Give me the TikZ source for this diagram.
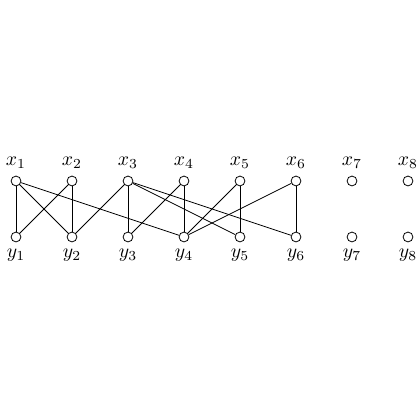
\documentclass[tikz,border=0pt]{standalone}
\begin{document}
\begin{tikzpicture}[x=1cm,y=1cm,
  vtx/.style={circle,draw,fill=white,minimum size=5pt,inner sep=0pt},
  edge/.style={draw,line width=0.4pt}]
\useasboundingbox (0,0) rectangle (7.5,7.5);
\foreach \i in {1,...,8}{
  \node[vtx,label={[label distance=0pt]above:$x_{\i}$}] (x\i) at ({0.2857+\i-1},4.268) {};
  \node[vtx,label={[label distance=0pt]below:$y_{\i}$}] (y\i) at ({0.2857+\i-1},3.268) {};
}
\begin{scope}[on background layer/.try]
\end{scope}
\foreach \a/\b in {1/1,1/2,1/4,2/1,2/2,3/2,3/3,3/5,3/6,4/3,4/4,5/4,5/5,6/4,6/6}{
  \draw[edge] (x\a) -- (y\b);
}
\end{tikzpicture}
\end{document}
